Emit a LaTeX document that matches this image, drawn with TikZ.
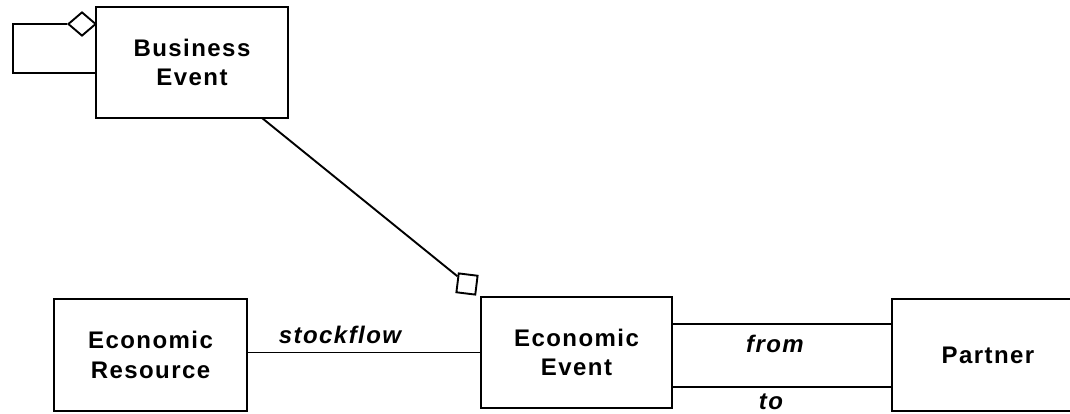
\documentclass[tikz,border=0pt]{standalone}
\usepackage{fontspec}
\setmainfont{Liberation Sans}
\newfontfamily\boxfont{Liberation Sans}[LetterSpace=6]
\usetikzlibrary{shapes.geometric,calc}
\begin{document}
\begin{tikzpicture}[x=1pt,y=-1pt,
  conn/.style={draw,line width=1.9pt},
  entity/.style={draw,line width=1.9pt,rectangle,inner sep=0pt,align=center,
    font=\boxfont\fontsize{24}{29.5}\selectfont\bfseries},
  role/.style={inner sep=0pt,anchor=base,font=\boxfont\fontsize{24}{29.5}\selectfont\bfseries\itshape}]
\useasboundingbox (0,0) rectangle (1070,413);
\clip (0,0) rectangle (1070,413);
% entities
\node[entity,minimum width=192pt,minimum height=111pt] (BE) at (192,62.5) {Business\\Event};
\node[entity,minimum width=193pt,minimum height=112pt] (ER) at (150.5,355) {Economic\\Resource};
\node[entity,minimum width=191pt,minimum height=111pt] (EE) at (576.5,352.5) {Economic\\Event};
\node[entity,minimum width=192pt,minimum height=112pt] (PA) at (988,355) {Partner};
% self aggregation on Business Event
\node[draw,diamond,line width=1.9pt,inner sep=0pt,minimum width=28pt,minimum height=24pt] (dia) at (82,24) {};
\coordinate (la) at (BE.west |- 0,73);
\coordinate (lb) at (13,73);
\coordinate (lc) at (13,24);
\draw[conn] (la) -- (lb) -- (lc) -- (dia.west);
% Business Event -- Economic Event
\coordinate (bs) at (262,118);
\node[draw,rectangle,line width=1.9pt,inner sep=0pt,minimum size=19pt,rotate=-7] (sq) at (467,284) {};
\draw[conn] (bs) -- (sq);
% stockflow
\draw[conn] (EE.west) -- (EE.west -| ER.east);
\node[role] (lsf) at (340,343) {stockflow};
% from / to
\coordinate (fa) at (EE.east |- 0,324);
\coordinate (fb) at (PA.west |- 0,324);
\coordinate (ta) at (EE.east |- 0,387);
\coordinate (tb) at (PA.west |- 0,387);
\draw[conn] (fa) -- (fb);
\draw[conn] (ta) -- (tb);
\node[role] (lfrom) at (775,352) {from};
\node[role] (lto) at (771,409) {to};
\end{tikzpicture}
\end{document}
